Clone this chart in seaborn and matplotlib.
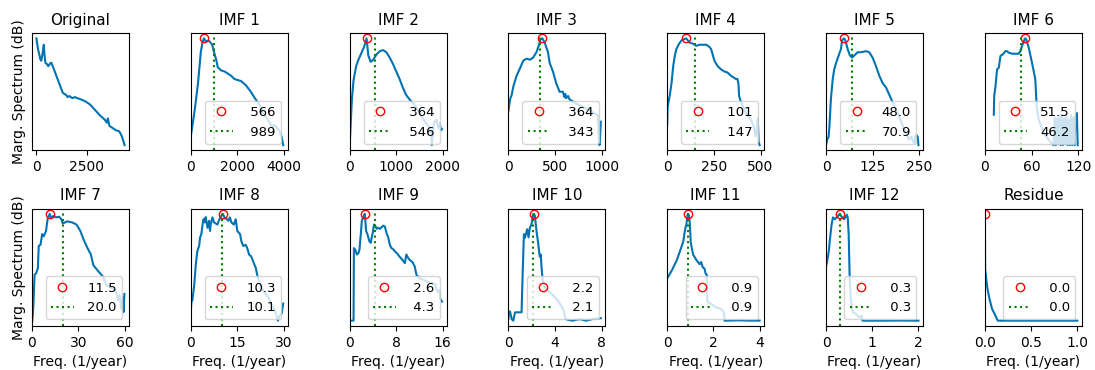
import matplotlib
matplotlib.use("Agg")
import matplotlib.pyplot as plt
import seaborn as sns

# ---------------- data ----------------
titles = ["Original", "IMF 1", "IMF 2", "IMF 3", "IMF 4", "IMF 5", "IMF 6",
          "IMF 7", "IMF 8", "IMF 9", "IMF 10", "IMF 11", "IMF 12", "Residue"]

xticks = [[0, 2500], [0, 2000, 4000], [0, 1000, 2000], [0, 500, 1000],
          [0, 250, 500], [0, 125, 250], [0, 60, 120], [0, 30, 60],
          [0, 15, 30], [0, 8, 16], [0, 4, 8], [0, 2, 4], [0, 1, 2],
          [0.0, 0.5, 1.0]]

peak_labels = [None, "566", "364", "364", "101", "48.0", "51.5", "11.5",
               "10.3", "2.6", "2.2", "0.9", "0.3", "0.0"]
mean_labels = [None, "989", "546", "343", "147", "70.9", "46.2", "20.0",
               "10.1", "4.3", "2.1", "0.9", "0.3", "0.0"]

orig_x = [0, 80, 143, 200, 239, 300, 366, 400, 446, 520, 589, 700, 748, 908,
          1146, 1306, 1465, 1550, 1624, 1783, 1900, 2022, 2182, 2420, 2659,
          2898, 3137, 3376, 3487, 3535, 3615, 3774, 3933, 4092, 4188, 4252,
          4315, 4363]
orig_y = [100, 90, 85, 80, 79, 85, 94, 85, 77, 76, 74, 77, 77, 69, 57, 49, 47,
          45, 46, 44, 45, 44, 43, 41, 38, 33, 28, 24, 21, 25, 18, 16, 14, 13,
          10, 7, 3, 0]

imf1_x = [20, 170, 310, 430, 500, 566, 650, 760, 850, 920, 1000, 1090, 1160,
          1300, 1450, 1590, 1730, 1870, 2010, 2160, 2370, 2580, 2720, 2940,
          3150, 3360, 3500, 3580, 3790, 3900, 3970]
imf1_y = [11, 33, 58, 87, 96, 100, 97, 98, 96, 94, 87, 80, 73, 70, 69, 67, 65,
          62, 61, 60, 56, 50, 45, 38, 29, 22, 17, 19, 14, 8, 0]

imf2_x = [0, 14, 49, 85, 141, 190, 261, 310, 364, 401, 451, 507, 577, 648,
          718, 789, 859, 930, 1000, 1070, 1141, 1211, 1282, 1423, 1563, 1704,
          1740, 1761, 1810, 1859, 1901, 1930, 1958, 1980]
imf2_y = [0, 11, 43, 61, 74, 80, 87, 92, 100, 84, 78, 80, 85, 88, 89, 87, 82,
          76, 69, 62, 54, 47, 43, 36, 25, 17, 14, 0, 21, 24, 16, 21, 14, 15]

imf3_x = [0, 18, 35, 53, 88, 124, 159, 194, 230, 265, 300, 325, 343, 364, 389,
          424, 442, 477, 512, 548, 583, 600, 610, 618, 640, 654, 724, 795, 866,
          919, 960, 970, 978, 990]
imf3_y = [32, 43, 47, 55, 65, 72, 79, 81, 80, 82, 87, 93, 99, 100, 96, 87, 77,
          69, 58, 50, 50, 45, 48, 44, 46, 43, 39, 36, 33, 30, 28, 1, 0, 22]

imf4_x = [0, 2, 14, 23, 32, 41, 49, 64, 76, 101, 120, 138, 155, 173, 191, 209,
          226, 235, 253, 270, 288, 306, 323, 341, 359, 367, 376, 382, 385, 394,
          412, 429, 447, 465, 473, 480, 485, 490, 495]
imf4_y = [19, 36, 47, 58, 74, 84, 90, 95, 98, 100, 96, 95, 93, 94, 94, 94, 92,
          90, 79, 74, 71, 69, 68, 65, 63, 62, 62, 57, 46, 41, 33, 28, 24, 17, 8,
          14, 25, 3, 0]

imf5_x = [0, 3, 7, 9, 13, 18, 22, 27, 34, 40, 43, 48, 52, 58, 64, 70, 76, 85,
          94, 107, 116, 125, 134, 143, 152, 161, 170, 179, 196, 214, 223, 228,
          237, 241, 246, 248]
imf5_y = [0, 5, 8, 17, 43, 62, 71, 77, 84, 90, 98, 100, 98, 90, 84, 82, 84, 87,
          87, 88, 87, 82, 74, 65, 58, 54, 47, 40, 27, 11, 5, 8, 2, 10, 8, 0]

imf6_x = [11.5, 12, 13.6, 15.7, 17.9, 20, 23, 26.4, 28.5, 30.6, 34.9, 43.4,
          45.5, 47.7, 51.5, 52.8, 56.2, 60.4, 62.6, 64.7, 66, 66.8, 69, 75, 82,
          88, 89.5, 91, 92.5, 94, 95.5, 97, 98.5, 100, 101.5, 103, 104.5, 106,
          107.5, 109, 110.5, 112, 113.5, 115, 116.5, 118, 119]
imf6_y = [28.5, 46, 55, 71, 72.5, 83.5, 85, 88, 88, 86.6, 85.6, 85.6, 88, 93,
          100, 99.4, 91.5, 77.3, 69.4, 61.5, 42.6, 33.2, 24, 12, 5, 0, 26, 0,
          25, 1, 28, 0, 27, 0, 25, 1, 27, 0, 24, 0, 28, 0, 26, 0, 27, 30, 0]

imf7_x = [0.2, 0.8, 1.7, 2.7, 3.8, 4.4, 5.5, 6.6, 7.6, 9.1, 10.1, 11.5, 12.3,
          14, 15.4, 17.5, 19, 19.9, 22.8, 26, 28.8, 31.3, 33.4, 35.9, 38.1,
          39.7, 41.9, 44, 46.1, 48.2, 52.4, 54.5, 55.6, 56.7, 57.7, 58.8, 59.2,
          59.8]
imf7_y = [0, 11, 43, 44.5, 49, 70, 71, 81, 79, 84, 95, 100, 96.7, 98, 96.7,
          97.3, 95, 91, 93, 92, 90, 84, 76, 68, 62, 52, 48, 44.5, 41, 33, 30,
          27, 19, 24, 11, 22, 8, 25]

imf8_x = [0, 0.2, 0.5, 1.1, 1.6, 2.1, 2.7, 3, 3.4, 3.8, 4.1, 4.5, 4.8, 5.4,
          5.9, 6.2, 6.4, 7, 7.5, 8.6, 9.1, 9.6, 10.3, 10.9, 11.6, 12.1, 12.6,
          13.1, 13.9, 14.5, 15, 15.9, 16.3, 16.9, 17.7, 18.2, 18.8, 19.5, 20.6,
          21, 21.4, 22, 23.6, 25.2, 26.3, 27.3, 28.1, 28.7, 29.3, 29.8]
imf8_y = [8, 17.6, 19, 33, 52, 65, 70, 78, 81, 90, 95, 92, 97, 87, 93.5, 84,
          90, 96.7, 92, 90, 94, 97, 100, 96.7, 95, 93.5, 96.7, 92, 90, 95, 84,
          81, 74.5, 70, 71, 68, 62, 60, 52, 49, 43, 36.5, 27, 21, 14, 8, 0, 5,
          6.5, 16]

imf9_x = [0, 0.68, 0.74, 0.97, 1.25, 1.53, 1.7, 1.93, 2.1, 2.6, 2.67, 2.84,
          3.07, 3.4, 3.64, 3.8, 3.98, 4.2, 4.4, 4.66, 4.94, 5.2, 5.8, 6.08,
          6.36, 6.65, 6.93, 7.2, 7.5, 7.78, 8.18, 8.6, 9.1, 9.5, 9.77, 10.06,
          10.34, 10.8, 11.2, 11.5, 12.05, 13.2, 14.3, 14.8, 14.9, 15.2, 15.45,
          15.57, 15.9]
imf9_y = [0.2, 0.2, 68, 66.6, 62, 63.4, 66.6, 81, 93.5, 100, 96.7, 84, 81,
          74.5, 73, 78, 82, 90, 89, 86, 87, 86, 89, 88, 82, 78, 71, 68, 67, 65,
          63, 60, 57, 54, 62, 59, 57, 55, 51, 43, 40, 37, 35, 34, 30, 27, 29,
          21, 18]

imf10_x = [0, 0.03, 0.14, 0.28, 0.42, 0.57, 0.85, 1.13, 1.22, 1.33, 1.42, 1.5,
           1.61, 1.73, 1.84, 1.98, 2.07, 2.2, 2.27, 2.41, 2.55, 2.63, 2.69,
           2.78, 2.83, 2.92, 3.03, 3.26, 3.54, 3.82, 4.25, 4.53, 4.73, 4.9,
           5.1, 5.52, 6.09, 6.66, 7.22, 7.93]
imf10_y = [1.7, 8.7, 8.7, 1.7, 0.2, 8, 8, 8, 43, 81, 77.7, 81, 85.6, 78, 87,
           90, 96.7, 100, 98.3, 84, 73, 65, 60, 62, 52, 40, 33, 30, 27, 24, 19,
           14, 10, 2, 1, 0.2, 1.7, 0.2, 1.7, 2.5]

imf11_x = [0, 0.21, 0.42, 0.63, 0.7, 0.74, 0.79, 0.83, 0.87, 0.9, 0.95, 0.98,
           1.02, 1.12, 1.26, 1.4, 1.47, 1.54, 1.61, 1.66, 1.71, 1.74, 1.89,
           2.1, 2.32, 2.46, 2.48, 2.53, 3.09, 3.65, 4.0]
imf11_y = [39.7, 47.6, 57, 70, 74.5, 81, 87, 90, 98, 100, 98, 90, 73, 62, 57,
           53, 55, 50, 49, 44.5, 43, 17.6, 16, 12.8, 11.2, 8, 0.2, 0.2, 0.5,
           0.2, 0.3]

imf12_x = [0, 0.03, 0.06, 0.08, 0.12, 0.15, 0.19, 0.23, 0.3, 0.32, 0.35, 0.39,
           0.42, 0.45, 0.47, 0.49, 0.51, 0.52, 0.54, 0.58, 0.65, 0.72, 0.77,
           0.79, 1.2, 1.6, 2.0]
imf12_y = [50.8, 57, 65, 74.5, 90, 96.7, 95, 96.7, 100, 98.3, 96.7, 95, 96.7,
           99.2, 96.7, 81, 43, 33, 17.6, 8, 6.5, 3.3, 4.9, 0.2, 0.2, 0.3, 0.2]

res_x = [0, 0.003, 0.014, 0.028, 0.05, 0.078, 0.106, 0.131, 0.14, 0.5, 1.0]
res_y = [100, 48.6, 39.7, 30.2, 20.7, 11.2, 6.5, 1.7, 0.2, 0.2, 0.2]

curves_x = [orig_x, imf1_x, imf2_x, imf3_x, imf4_x, imf5_x, imf6_x, imf7_x,
            imf8_x, imf9_x, imf10_x, imf11_x, imf12_x, res_x]
curves_y = [orig_y, imf1_y, imf2_y, imf3_y, imf4_y, imf5_y, imf6_y, imf7_y,
            imf8_y, imf9_y, imf10_y, imf11_y, imf12_y, res_y]

# ---------------- figure ----------------
blue = "#0173B2"
fig, axes = plt.subplots(2, 7, figsize=(10.95, 3.7), dpi=100)
fig.subplots_adjust(left=0.0292, right=0.988, top=0.9108, bottom=0.1189,
                    wspace=0.637, hspace=0.494)

for i, ax in enumerate(axes.flat):
    xs, ys = curves_x[i], curves_y[i]
    sns.lineplot(x=xs, y=ys, ax=ax, color=blue, linewidth=1.5,
                 estimator=None, sort=False)
    ax.set_title(titles[i], fontsize=11)
    ax.set_yticks([])
    if peak_labels[i] is not None:
        pk = float(peak_labels[i])
        mn = float(mean_labels[i])
        h1, = ax.plot([pk], [max(ys)], "o", mfc="none", mec="r", ms=6,
                      label=peak_labels[i].rjust(4))
        h2 = ax.axvline(mn, color="g", linestyle=":", linewidth=1.5,
                        label=mean_labels[i].rjust(4))
        ax.set_xlim(left=0)
        ax.legend(handles=[h1, h2], loc="lower right", fontsize=9.5,
                  handlelength=1.7, handletextpad=1.05)
    ax.set_xticks(xticks[i])
    if i % 7 == 0:
        ax.set_ylabel("Marg. Spectrum (dB)", fontsize=10)
    if i >= 7:
        ax.set_xlabel("Freq. (1/year)", fontsize=10)

fig.savefig("out.png", dpi=100)
